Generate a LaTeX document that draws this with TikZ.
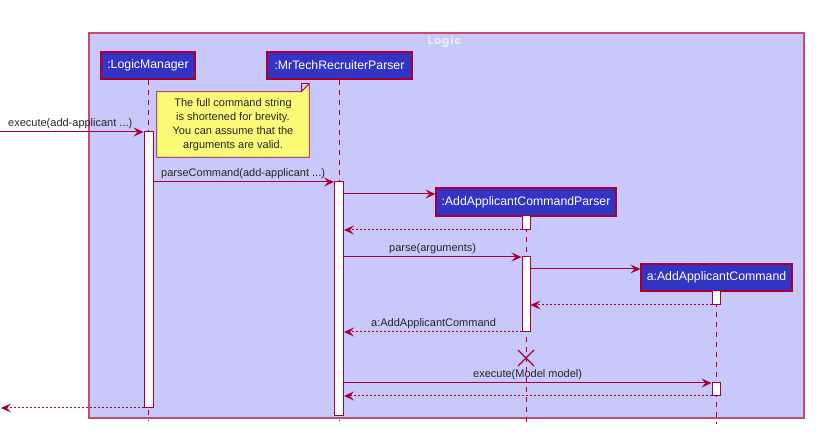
\documentclass[tikz,border=0pt]{standalone}
\usepackage{fontspec}
\setmainfont{Liberation Sans}
\newfontfamily\titlefont[LetterSpace=8]{Poppins}
\usetikzlibrary{arrows.meta}
\definecolor{crim}{HTML}{A80036}
\definecolor{framefill}{HTML}{C8C8FA}
\definecolor{partfill}{HTML}{3333C4}
\definecolor{notey}{HTML}{FBFB77}
\tikzset{
  partbox/.style={draw=crim, line width=1.2pt, fill=partfill, text=white, inner sep=0pt,
    minimum height=27pt, font=\fontsize{12.3}{14}\selectfont},
  actbox/.style={draw=crim, line width=1pt, fill=white, minimum width=9pt, inner sep=0pt},
  lifeline/.style={draw=crim, line width=1pt, dash pattern=on 5pt off 5pt},
  msg/.style={draw=crim, line width=1pt, -{Stealth[length=10pt,width=9pt,inset=4pt]}},
  retmsg/.style={msg, dash pattern=on 2pt off 2pt},
  lbl/.style={anchor=base west, inner sep=0pt, font=\fontsize{11}{13}\selectfont, text=black!85},
}
\begin{document}
\begin{tikzpicture}[x=1pt,y=-1pt]
\useasboundingbox (0,0) rectangle (825,443);
% frame
\draw[draw=crim!70, line width=1.4pt, fill=framefill] (89,33) rectangle (804,418);
\node[text=white!92!blue, font=\titlefont\bfseries\fontsize{11}{13}\selectfont] (logictitle) at (444.5,42) {Logic};

% participants
\node[partbox, minimum width=94pt] (lm) at (148,65.5) {:LogicManager};
\node[partbox, minimum width=145pt] (mp) at (339.5,65.5) {:MrTechRecruiterParser};
\node[partbox, minimum width=180pt, minimum height=28pt] (ap) at (526,202) {:AddApplicantCommandParser};
\node[partbox, minimum width=151pt] (ac) at (716.5,277.5) {a:AddApplicantCommand};

% lifeline ends
\coordinate (lmend) at (148,421);
\coordinate (mpend) at (339,421);
\coordinate (apend) at (526,424);
\coordinate (acend) at (716,424);
\draw[lifeline] (lm.south) -- (lmend);
\draw[lifeline] (mp.south -| mpend) -- (mpend);
\draw[lifeline] (ap.south) -- (apend);
\draw[lifeline] (ac.south -| acend) -- (acend);

% note
\node[minimum width=152pt, minimum height=65pt, inner sep=0pt] (note) at (233,124.5) {};
\filldraw[draw=crim, line width=0.8pt, fill=notey]
  (note.north west) -- ([xshift=-8pt]note.north east) -- ([yshift=8pt]note.north east)
  -- (note.south east) -- (note.south west) -- cycle;
\draw[crim, line width=0.8pt] ([xshift=-8pt]note.north east) -- ([xshift=-8pt,yshift=8pt]note.north east) -- ([yshift=8pt]note.north east);
\node[align=center, font=\fontsize{11}{14}\selectfont, text=black!85] (notetext) at (note.center)
  {The full command string\\is shortened for brevity.\\You can assume that the\\arguments are valid.};

% activations
\node[actbox, minimum height=276pt] (lma) at (148.5,270) {};
\node[actbox, minimum height=234pt] (mpa) at (339,299) {};
\node[actbox, minimum width=8pt, minimum height=14pt] (apa1) at (526,223) {};
\node[actbox, minimum width=8pt, minimum height=75pt] (apa2) at (526,294.5) {};
\node[actbox, minimum width=8pt, minimum height=14pt] (aca1) at (716,298) {};
\node[actbox, minimum width=8pt, minimum height=13pt] (aca2) at (716,389.5) {};

% message levels
\coordinate (in) at (0,132);
\coordinate (out) at (1,408);
\coordinate (y1) at (0,182);
\coordinate (y2) at (0,194);
\coordinate (y3) at (0,230);
\coordinate (y4) at (0,257);
\coordinate (y5) at (0,269);
\coordinate (y6) at (0,305);
\coordinate (y7) at (0,332);
\coordinate (y8) at (0,383);
\coordinate (y9) at (0,396);

\draw[msg] (in) -- (lma.west |- in);
\node[lbl] (l0) at (8,127) {execute(add-applicant ...)};

\draw[msg] (lma.east |- y1) -- (mpa.west |- y1);
\node[lbl] (l1) at (161,177) {parseCommand(add-applicant ...)};

\draw[msg] (mpa.east |- y2) -- (ap.west |- y2);
\draw[retmsg] (apa1.west |- y3) -- (mpa.east |- y3);

\draw[msg] (mpa.east |- y4) -- (apa2.west |- y4);
\node[lbl] (l2) at (389,252) {parse(arguments)};

\draw[msg] (apa2.east |- y5) -- (ac.west |- y5);
\draw[retmsg] (aca1.west |- y6) -- (apa2.east |- y6);

\draw[retmsg] (apa2.west |- y7) -- (mpa.east |- y7);
\node[lbl] (l3) at (371,327) {a:AddApplicantCommand};

% destroy mark
\coordinate (destroy) at (526,358);
\draw[crim, line width=1.3pt] ([shift={(-8,-8)}]destroy) -- ([shift={(8,8)}]destroy)
  ([shift={(-8,8)}]destroy) -- ([shift={(8,-8)}]destroy);

\draw[msg] (mpa.east |- y8) -- (aca2.west |- y8);
\node[lbl] (l4) at (473,378) {execute(Model model)};
\draw[retmsg] (aca2.west |- y9) -- (mpa.east |- y9);

\draw[retmsg] (lma.west |- out) -- (out);
\end{tikzpicture}
\end{document}
